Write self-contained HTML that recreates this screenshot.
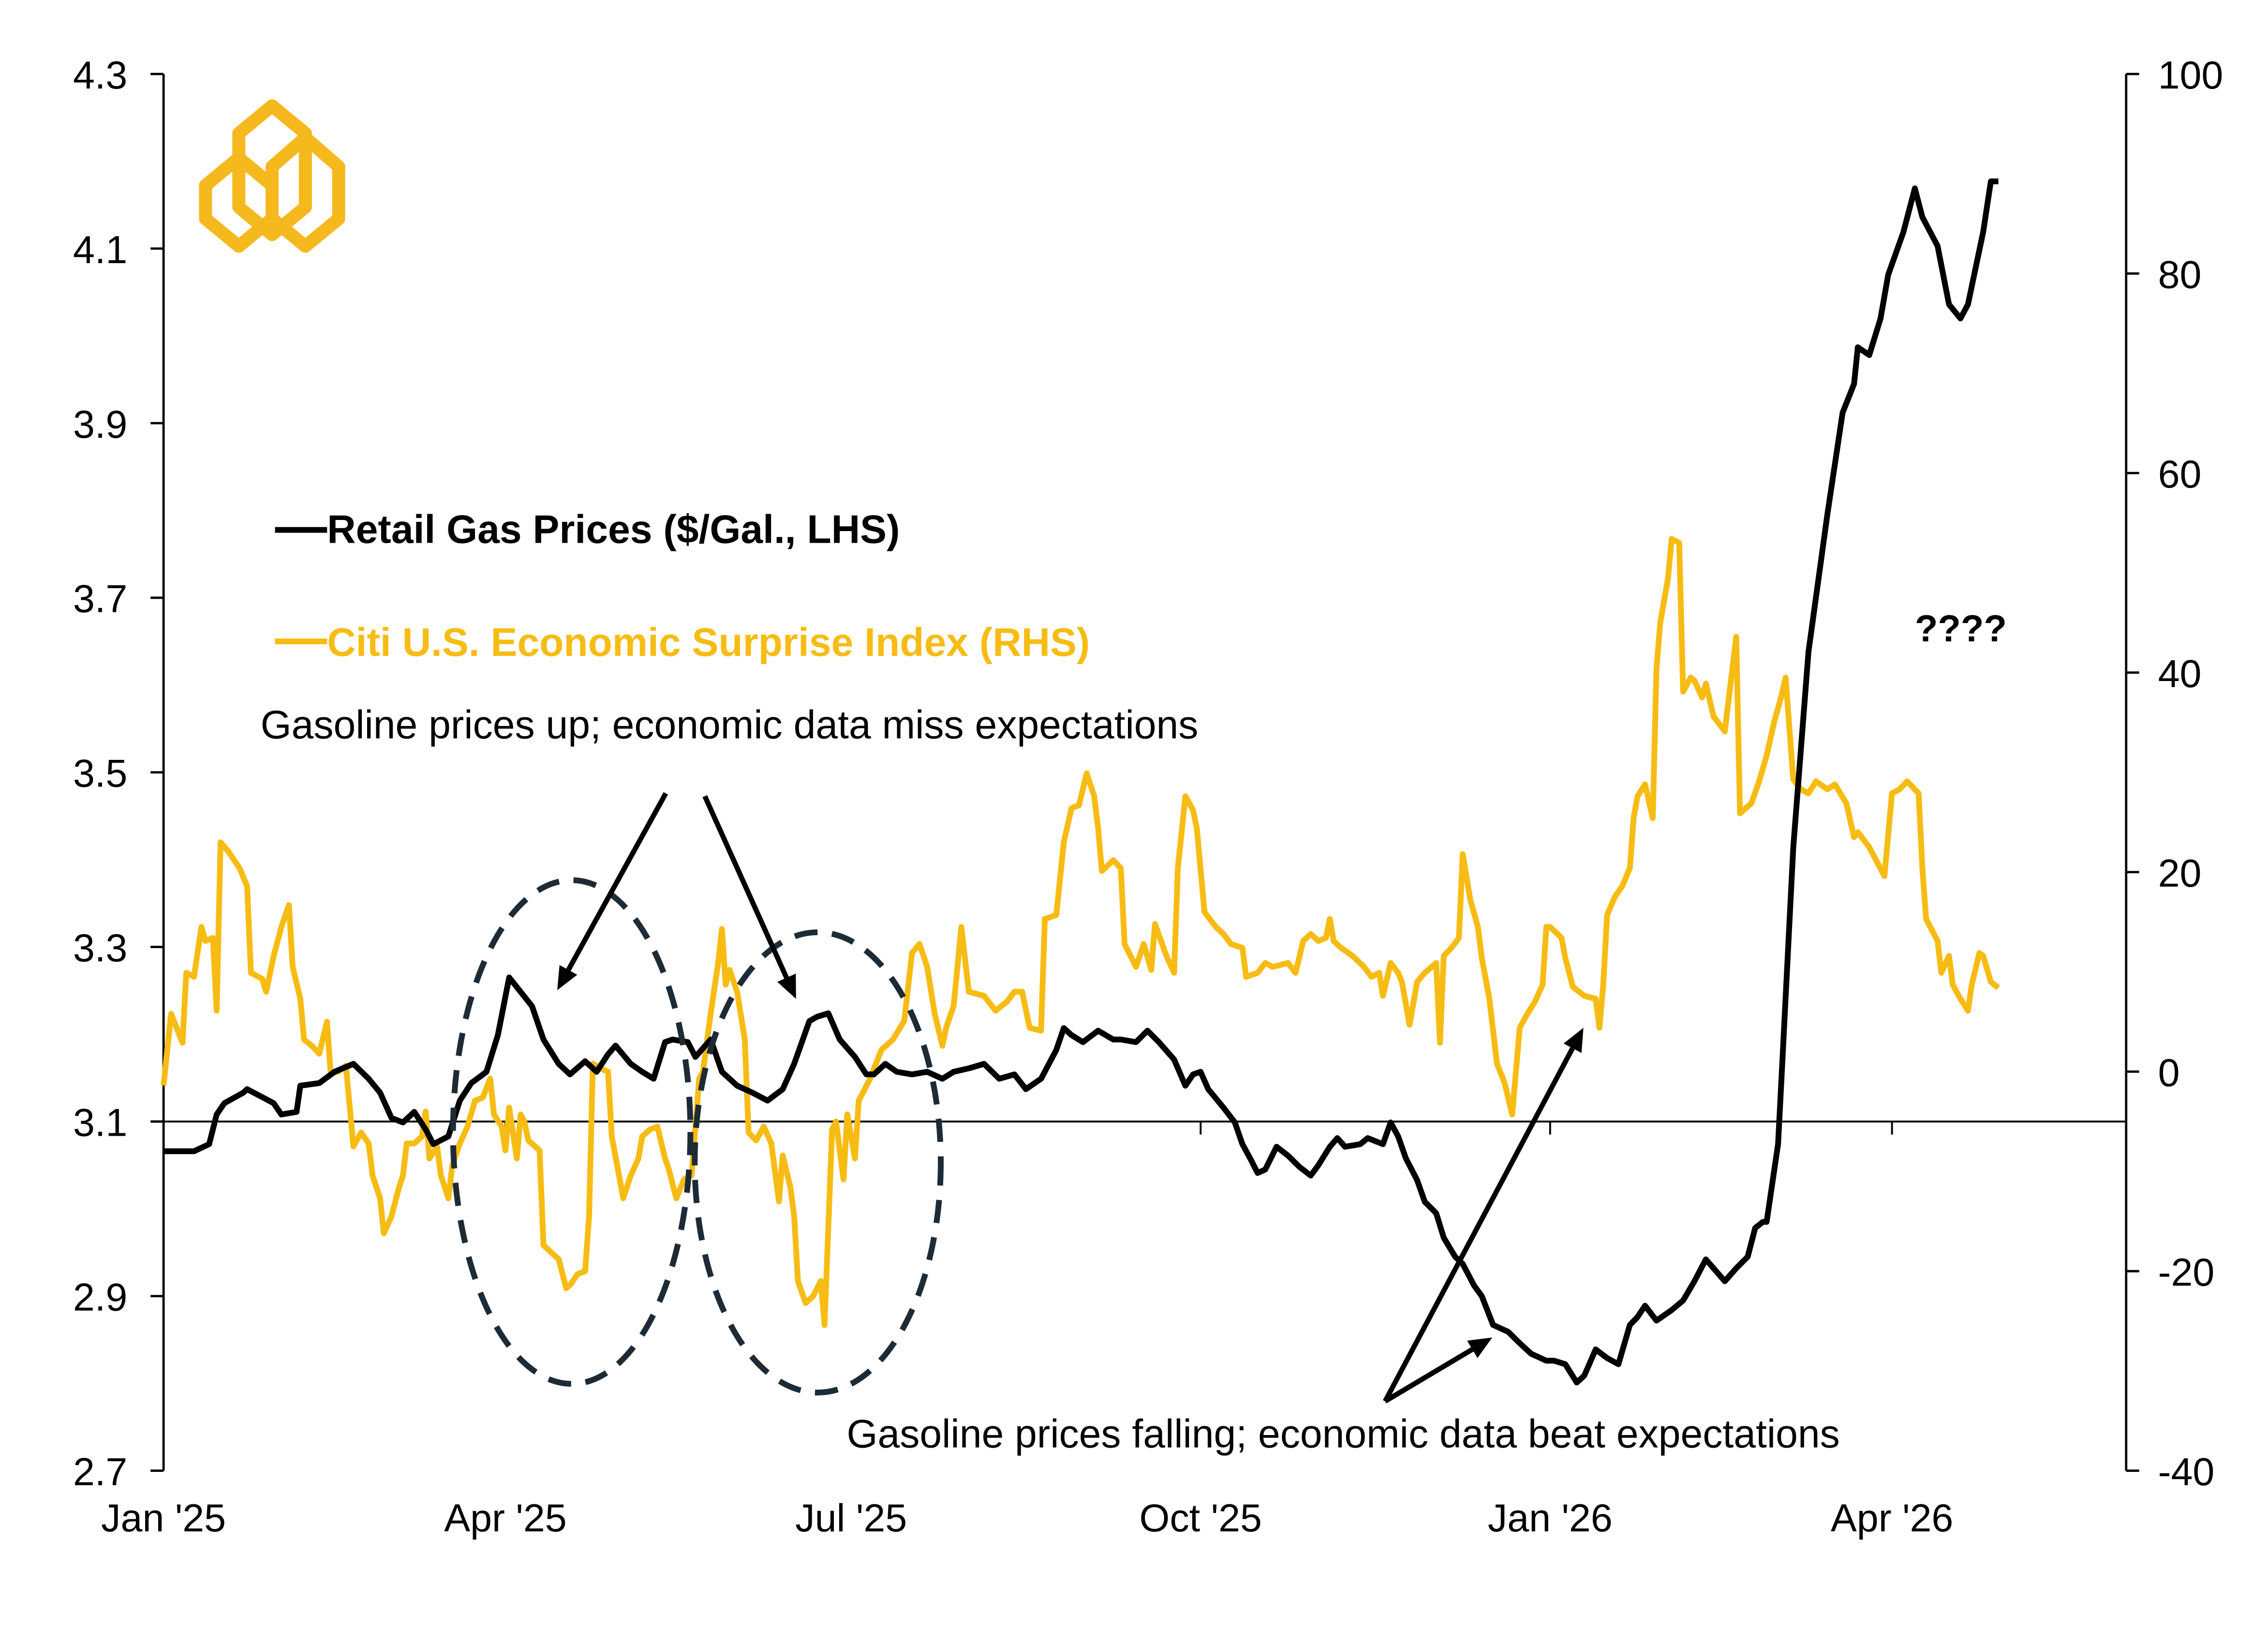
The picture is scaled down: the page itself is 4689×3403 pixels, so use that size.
<!DOCTYPE html>
<html><head><meta charset="utf-8"><style>
html,body{margin:0;padding:0;background:#fff}
svg{display:block}
text{font-family:"Liberation Sans",Arial,sans-serif}
</style></head><body>
<svg id="chart" width="4689" height="3403" viewBox="0 0 1567 1137" xmlns="http://www.w3.org/2000/svg">
<rect width="1567" height="1137" fill="#fff"/>
<g id="logo" fill="none" stroke="#f5b91e" stroke-width="9" stroke-linejoin="round">
<polygon points="188,73 211,92 211,143 188,162 165,143 165,92"/>
<polygon points="165,109 188,128 188,151 165,170 142,151 142,128"/>
<polygon points="211,95 234,115 234,151 211,170 188,151 188,115"/>
</g>
<g id="axes"></g>
<g id="series"></g>
<g id="annot"></g>
</svg>
<script>
const NS="http://www.w3.org/2000/svg";
// ---- data ----
const xTickLabels=["Jan '25","Apr '25","Jul '25","Oct '25","Jan '26","Apr '26"];
const xTickDays=[0,90,181,273,365,455];
const leftTicks=[2.7,2.9,3.1,3.3,3.5,3.7,3.9,4.1,4.3];
const leftTickLabels=["2.7","2.9","3.1","3.3","3.5","3.7","3.9","4.1","4.3"];
const rightTicks=[-40,-20,0,20,40,60,80,100];
const rightTickLabels=["-40","-20","0","20","40","60","80","100"];
const gasDays=[0,8,12,14,16,21,22,26,29,31,35,36,41,45,50,54,57,60,63,66,69,71,75,78,81,85,88,91,93,97,100,104,107,111,114,117,119,123,126,129,132,134,138,140,144,147,151,155,159,163,166,170,172,175,178,182,185,187,190,193,197,201,205,208,212,216,220,224,227,231,235,237,239,242,246,250,252,256,259,262,266,269,271,273,275,279,282,284,286,288,290,293,296,299,302,304,307,309,311,315,317,321,323,325,327,330,332,335,337,340,342,345,347,350,354,357,360,364,366,369,372,374,377,380,383,386,388,390,393,397,400,403,406,408,411,414,417,419,421,422,425,426,429,433,438,442,445,446,449,452,454,458,461,463,467,470,473,475,479,481,483];
const gasValues=[3.066,3.066,3.074,3.108,3.121,3.133,3.137,3.128,3.121,3.108,3.111,3.141,3.144,3.157,3.166,3.149,3.133,3.104,3.099,3.111,3.091,3.074,3.083,3.124,3.144,3.157,3.199,3.265,3.254,3.232,3.194,3.166,3.154,3.169,3.157,3.177,3.187,3.166,3.157,3.149,3.191,3.194,3.191,3.174,3.194,3.157,3.141,3.133,3.124,3.137,3.166,3.215,3.220,3.224,3.194,3.174,3.154,3.154,3.166,3.157,3.154,3.157,3.149,3.157,3.161,3.166,3.149,3.154,3.137,3.149,3.182,3.207,3.199,3.191,3.204,3.194,3.194,3.191,3.204,3.191,3.171,3.141,3.154,3.157,3.137,3.116,3.099,3.074,3.058,3.041,3.045,3.071,3.061,3.048,3.038,3.050,3.071,3.081,3.071,3.074,3.081,3.074,3.099,3.083,3.058,3.033,3.008,2.995,2.967,2.945,2.937,2.912,2.900,2.867,2.859,2.846,2.834,2.826,2.826,2.822,2.801,2.809,2.839,2.829,2.822,2.867,2.876,2.889,2.872,2.884,2.895,2.917,2.942,2.932,2.917,2.932,2.945,2.978,2.985,2.985,3.074,3.157,3.414,3.638,3.796,3.912,3.945,3.987,3.978,4.020,4.070,4.119,4.169,4.136,4.103,4.036,4.020,4.036,4.119,4.177,4.177];
const esiDays=[0,2,5,6,8,10,11,13,14,15,17,20,22,23,26,27,29,31,33,34,36,37,39,41,43,44,46,48,50,52,54,55,57,58,60,62,63,64,66,68,69,70,72,73,75,76,78,80,82,84,86,87,89,90,91,93,94,95,96,99,100,102,104,106,107,109,111,112,113,115,117,118,121,123,125,126,128,130,132,133,135,137,139,141,142,144,146,147,148,149,151,153,154,156,158,160,162,163,165,166,167,169,171,173,174,176,177,179,180,182,183,186,187,189,192,195,197,199,201,203,205,206,208,210,212,216,219,222,224,226,228,231,232,235,237,239,241,243,245,246,247,250,252,253,256,258,260,261,264,266,267,269,271,272,274,277,279,281,284,285,288,290,292,296,298,300,302,304,306,307,308,310,313,316,318,320,321,323,325,326,328,330,332,335,336,337,339,341,342,344,346,347,349,351,353,355,357,359,361,363,364,365,368,369,371,374,377,378,379,380,382,384,386,387,388,390,392,393,394,396,397,399,400,402,403,405,406,408,411,414,415,418,420,422,424,426,427,429,431,433,435,438,440,443,445,446,449,453,455,457,459,462,463,464,467,468,470,471,473,475,476,478,479,481,483];
const esiValues=[-1.4,5.8,2.9,9.9,9.5,14.5,13.1,13.4,6.1,23.0,22.1,20.4,18.6,9.9,9.3,8.0,11.6,14.5,16.7,10.5,7.3,3.2,2.6,1.8,5.0,-0.2,0.0,0.6,-7.5,-6.1,-7.2,-10.4,-12.7,-16.2,-14.5,-11.6,-10.4,-7.2,-7.2,-6.5,-4.0,-8.7,-7.5,-10.4,-12.7,-9.4,-7.2,-5.5,-2.9,-2.6,-0.7,-4.3,-5.5,-7.9,-3.6,-8.7,-4.3,-5.0,-6.9,-7.9,-17.4,-18.1,-18.8,-21.7,-21.4,-20.3,-20.0,-14.5,0.8,0.3,0.0,-6.5,-12.7,-10.4,-8.7,-6.5,-5.8,-5.5,-8.7,-9.8,-12.7,-10.8,-10.4,-0.7,0.0,5.8,10.9,14.3,8.7,10.2,8.0,3.2,-6.1,-6.9,-5.5,-7.2,-13.0,-8.4,-11.6,-14.5,-21.0,-23.2,-22.5,-21.0,-25.4,-5.8,-5.0,-10.8,-4.3,-8.7,-2.9,-0.7,0.3,2.2,3.2,5.1,11.9,12.8,10.5,5.8,2.6,4.4,6.6,14.5,8.0,7.6,6.1,7.0,8.0,8.0,4.4,4.1,15.3,15.7,23.0,26.4,26.7,29.9,27.6,24.4,20.1,21.2,20.4,12.8,10.5,12.8,10.2,14.8,11.6,9.9,20.4,27.6,26.2,24.4,16.0,14.5,13.8,12.8,12.4,9.5,9.9,10.9,10.5,10.9,9.9,13.1,13.8,13.1,13.4,15.3,13.1,12.4,11.6,10.5,9.5,9.9,7.6,10.9,9.9,9.0,4.7,9.0,9.9,10.9,2.9,11.6,12.4,13.4,21.8,17.2,14.5,11.4,7.3,0.8,-1.1,-4.3,4.4,5.8,7.0,8.7,14.5,14.5,13.4,11.4,8.5,7.6,7.3,4.4,8.7,15.7,17.5,18.6,20.4,25.4,27.6,28.8,25.4,40.4,45.0,49.4,53.4,53.0,38.1,39.5,39.2,37.5,38.9,35.6,34.1,43.6,25.9,26.9,29.1,31.7,35.1,37.8,39.5,29.3,28.3,27.9,29.1,28.3,28.8,26.9,23.5,24.0,22.5,19.6,27.9,28.3,29.1,27.9,20.4,15.3,13.1,9.9,11.6,8.7,7.3,6.1,8.7,11.9,11.6,9.0,8.4];

// ---- scales ----
const X0=113, PXD=958/365;
const xs=d=>X0+d*PXD;
const yL=v=>51+(4.3-v)*(965/1.6);
const yR=v=>51+(100-v)*(965/140);
const XL=113, XR=1469;

const axes=document.getElementById('axes');
function mk(tag,attrs,parent,txt){const e=document.createElementNS(NS,tag);for(const k in attrs)e.setAttribute(k,attrs[k]);if(txt!==undefined)e.textContent=txt;parent.appendChild(e);return e;}

let e=mk('line',{x1:XL,y1:yL(4.3),x2:XL,y2:yL(2.7),stroke:'#000','stroke-width':1.6},axes);


leftTicks.forEach((v,i)=>{
  let t=mk('line',{x1:XL-9,y1:yL(v),x2:XL,y2:yL(v),stroke:'#000','stroke-width':1.6},axes);
  
  
  let l=mk('text',{x:88,y:yL(v)+10,'text-anchor':'end','font-size':27,fill:'#000'},axes,leftTickLabels[i]);
  
  
});
e=mk('line',{x1:XR,y1:yR(100),x2:XR,y2:yR(-40),stroke:'#000','stroke-width':1.6},axes);


rightTicks.forEach((v,i)=>{
  let t=mk('line',{x1:XR,y1:yR(v),x2:XR+9,y2:yR(v),stroke:'#000','stroke-width':1.6},axes);
  
  
  let l=mk('text',{x:1491,y:yR(v)+10,'text-anchor':'start','font-size':27,fill:'#000'},axes,rightTickLabels[i]);
  
  
});
e=mk('line',{x1:XL,y1:yL(3.1),x2:XR,y2:yL(3.1),stroke:'#000','stroke-width':1.3},axes);


xTickDays.forEach((d,i)=>{
  let t=mk('line',{x1:xs(d),y1:yL(3.1),x2:xs(d),y2:yL(3.1)+9,stroke:'#000','stroke-width':1.3},axes);
  
  
  let l=mk('text',{x:xs(d),y:1058,'text-anchor':'middle','font-size':27,fill:'#000'},axes,xTickLabels[i]);
  
  
});

const ser=document.getElementById('series');
function pathOf(days,vals,ys){return days.map((d,i)=>(i?'L':'M')+xs(d).toFixed(1)+','+ys(vals[i]).toFixed(1)).join(' ');}
let p=mk('path',{d:pathOf(esiDays,esiValues,yR),fill:'none',stroke:'#f7bc14','stroke-width':4,'stroke-linejoin':'round'},ser);


p=mk('path',{d:pathOf(gasDays,gasValues,yL),fill:'none',stroke:'#000','stroke-width':4,'stroke-linejoin':'round'},ser);



const an=document.getElementById('annot');
e=mk('line',{x1:190,y1:366,x2:226,y2:366,stroke:'#000','stroke-width':4},an);


e=mk('text',{x:226,y:375,'font-size':27.5,'font-weight':'bold',fill:'#000'},an,'Retail Gas Prices ($/Gal., LHS)');


e=mk('line',{x1:190,y1:443,x2:226,y2:443,stroke:'#f7bc14','stroke-width':4},an);


e=mk('text',{x:226,y:453,'font-size':27.5,'font-weight':'bold',fill:'#f7bc14'},an,'Citi U.S. Economic Surprise Index (RHS)');


e=mk('text',{x:180,y:510,'font-size':27.5,fill:'#000'},an,'Gasoline prices up; economic data miss expectations');


e=mk('text',{x:585,y:1000,'font-size':27.5,fill:'#000'},an,'Gasoline prices falling; economic data beat expectations');


e=mk('text',{x:1323,y:443,'font-size':26,'font-weight':'bold',fill:'#000'},an,'????');


e=mk('ellipse',{cx:395,cy:782,rx:82,ry:174,fill:'none',stroke:'#1d2b36','stroke-width':4,'stroke-dasharray':'16 10'},an);


e=mk('ellipse',{cx:565,cy:803,rx:85,ry:159,fill:'none',stroke:'#1d2b36','stroke-width':4,'stroke-dasharray':'16 10'},an);


function arrow(x1,y1,x2,y2,name){
  const g=mk('g',{},an);
  
  
  const a=Math.atan2(y2-y1,x2-x1),L=16,W=7;
  const bx=x2-L*Math.cos(a),by=y2-L*Math.sin(a);
  mk('line',{x1:x1,y1:y1,x2:bx,y2:by,stroke:'#000','stroke-width':3.5},g);
  mk('polygon',{points:`${x2},${y2} ${bx+W*Math.sin(a)},${by-W*Math.cos(a)} ${bx-W*Math.sin(a)},${by+W*Math.cos(a)}`,fill:'#000'},g);
}
arrow(460,548,385,684,'arrow-apr');
arrow(487,550,550,690,'arrow-jun');
arrow(957,968,1094,710,'arrow-jan');
arrow(957,968,1031,924,'arrow-dec');
</script>
</body></html>
